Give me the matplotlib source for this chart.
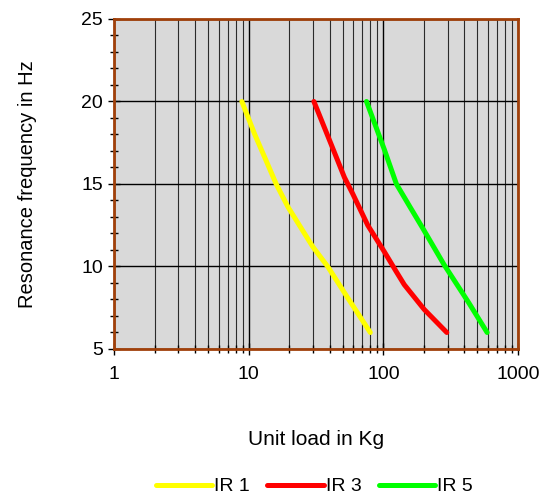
import matplotlib.pyplot as plt
from matplotlib.ticker import LogLocator, FixedLocator, NullFormatter, FuncFormatter

plt.rcParams['font.family'] = ['Liberation Sans', 'DejaVu Sans']

# values
ir1_load = [8.9, 11.1, 13.5, 16.0, 19.6, 29.9, 38.6, 54.4, 80]
ir1_freq = [20, 18.0, 16.4, 15.0, 13.6, 11.2, 10.0, 8.1, 6.0]

ir3_load = [30.5, 41, 51.4, 59.3, 76.6, 101.6, 124.5, 143, 201, 296]
ir3_freq = [20, 17.4, 15.4, 14.4, 12.5, 10.9, 9.7, 8.9, 7.4, 6.0]

ir5_load = [75, 101.6, 125, 158, 195.5, 283, 431, 590]
ir5_freq = [20, 17.1, 15.0, 13.6, 12.34, 10.1, 7.8, 6.0]

series = [("IR 1", ir1_load, ir1_freq, "#FFFF00"),
          ("IR 3", ir3_load, ir3_freq, "#FF0000"),
          ("IR 5", ir5_load, ir5_freq, "#00FF00")]

fig = plt.figure(figsize=(5.44, 4.97), dpi=100)
ax = fig.add_axes([0.2096, 0.2978, 0.7426, 0.664])
ax.set_facecolor("#D9D9D9")

for name, load, freq, color in series:
    ax.plot(load, freq, color=color, lw=3.6, label=name,
            solid_capstyle="round", solid_joinstyle="round", zorder=3)

ax.set_xscale("log")
ax.set_xlim(1, 1000)
ax.set_ylim(5, 25)

ax.xaxis.set_major_locator(FixedLocator([1, 10, 100, 1000]))
ax.xaxis.set_major_formatter(FuncFormatter(lambda v, p: f"{v:g}"))
ax.xaxis.set_minor_locator(LogLocator(base=10, subs=range(2, 10)))
ax.xaxis.set_minor_formatter(NullFormatter())
ax.set_yticks([5, 10, 15, 20, 25])
ax.set_yticks(range(5, 26), minor=True)

ax.grid(True, which="major", color="black", lw=1.0, zorder=1)
ax.grid(True, which="minor", axis="x", color="black", lw=0.8, alpha=0.8, zorder=1)

ax.tick_params(which="major", direction="inout", length=8, width=1,
               labelsize=14, pad=4)
ax.tick_params(which="minor", direction="inout", length=6, width=1)
ax.tick_params(axis="x", which="major", pad=8)
ax.tick_params(top=False, right=False, which="both")

for sp in ax.spines.values():
    sp.set_color("#A0400A")
    sp.set_linewidth(2)

ax.set_xlabel("Unit load in Kg", fontsize=15, labelpad=34)
ax.set_ylabel("Resonance frequency in Hz", fontsize=14.5, labelpad=32)

fig.legend(loc="lower center", bbox_to_anchor=(0.578, -0.032), ncol=3,
           frameon=False, fontsize=14, handlelength=2.9, handletextpad=0.1,
           columnspacing=0.9)

fig.savefig("out.png", dpi=100)
